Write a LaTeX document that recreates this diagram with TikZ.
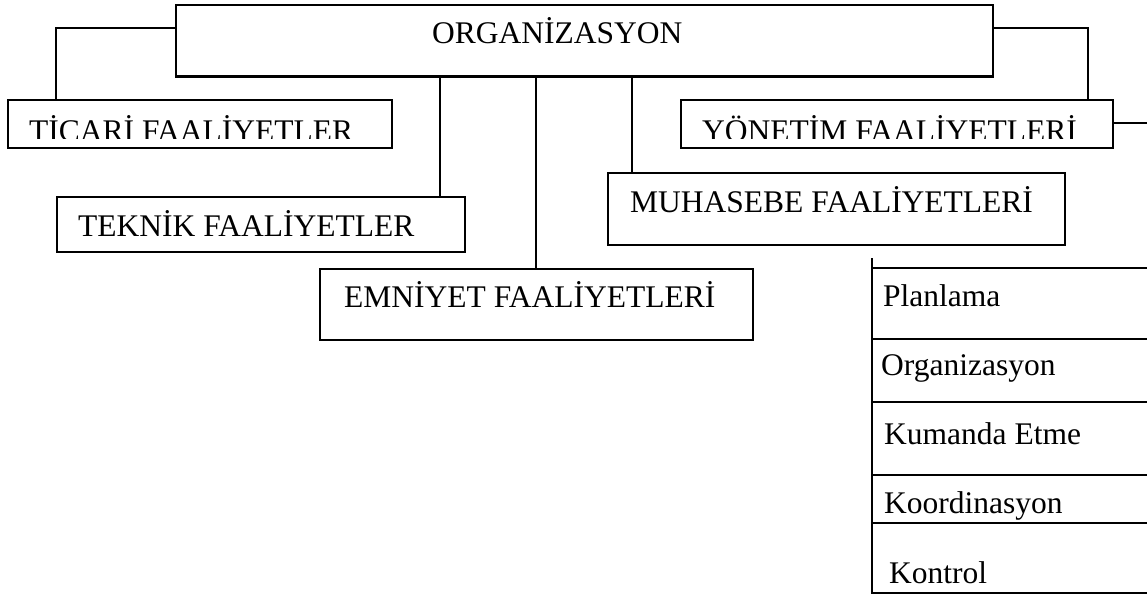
\documentclass[tikz,border=0pt]{standalone}
\usepackage{fontspec}
\setmainfont{Liberation Serif}
\begin{document}
\begin{tikzpicture}[x=1pt,y=-1pt,
  box/.style={draw=black, line width=2.2pt, rectangle, inner sep=0pt, anchor=north west},
  lbl/.style={anchor=base west, inner sep=0pt, font=\fontsize{31.5}{36}\selectfont},
  conn/.style={draw=black, line width=2.2pt}]
\useasboundingbox (0,0) rectangle (1147,596);
% boxes
\node[box, minimum width=817pt, minimum height=71.5pt] (org) at (175,4) {};
\node[box, minimum width=384pt, minimum height=48pt] (tic) at (7,99) {};
\node[box, minimum width=432pt, minimum height=48pt] (yon) at (680,99) {};
\node[box, minimum width=408pt, minimum height=55pt] (tek) at (56,196) {};
\node[box, minimum width=457pt, minimum height=72pt] (muh) at (607,172) {};
\node[box, minimum width=433pt, minimum height=71pt] (emn) at (319,268) {};
% texts
\node[lbl] (torg) at (432,44) {ORGANİZASYON};
\begin{scope}
  \clip (0,99) rectangle (1147,138.5);
  \node[lbl] (ttic) at (29,141.5) {TİCARİ FAALİYETLER};
  \node[lbl] (tyon) at (702,141.5) {YÖNETİM FAALİYETLERİ};
\end{scope}
\node[lbl] (ttek) at (78,236) {TEKNİK FAALİYETLER};
\node[lbl] (tmuh) at (630,212) {MUHASEBE FAALİYETLERİ};
\node[lbl] (temn) at (344,307) {EMNİYET FAALİYETLERİ};
% connector helper coordinates
\coordinate (cl) at (56,28);
\coordinate (cr) at (1088,28);
\coordinate (c1) at (440,0);
\coordinate (c2) at (536,0);
\coordinate (c3) at (632,0);
\coordinate (ye) at (1147,123);
% connectors
\draw[conn] (org.west |- cl) -| (cl |- tic.north);
\draw[conn] (org.east |- cr) -| (cr |- yon.north);
\draw[conn] (c1 |- org.south) -- (c1 |- tek.north);
\draw[conn] (c2 |- org.south) -- (c2 |- emn.north);
\draw[conn] (c3 |- org.south) -- (c3 |- muh.north);
\draw[conn] (yon.east |- ye) -- (ye);
% management list
\draw[conn] (872,258) -- (872,593) -- (1147,593);
\foreach \yy in {268,339,402,475,523} {
  \draw[conn] (872,\yy) -- (1147,\yy);
}
\node[lbl] (l1) at (883,306) {Planlama};
\node[lbl] (l2) at (881,375) {Organizasyon};
\node[lbl] (l3) at (884,444) {Kumanda Etme};
\node[lbl] (l4) at (884,513) {Koordinasyon};
\node[lbl] (l5) at (889,583) {Kontrol};
\end{tikzpicture}
\end{document}
